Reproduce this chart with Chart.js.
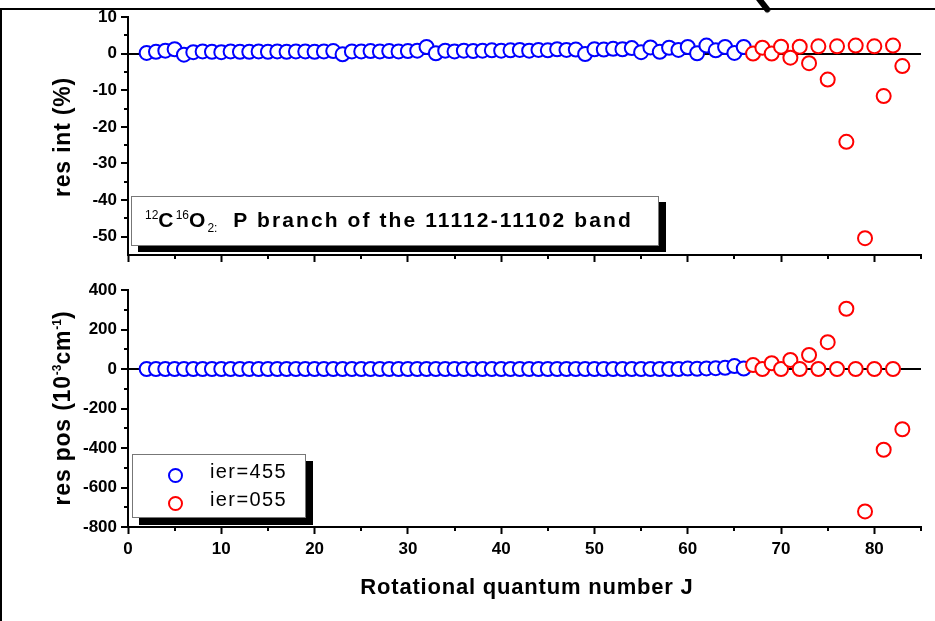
<!DOCTYPE html>
<html>
<head>
<meta charset="utf-8">
<script src="https://cdn.jsdelivr.net/npm/chart.js@4.4.1/dist/chart.umd.min.js"></script>
<style>
  body { margin: 0; background: #fff; }
  #page { position: relative; width: 935px; height: 621px; overflow: hidden; font-family: Arial, "Liberation Sans", sans-serif; color: #000; }
  #page canvas { position: absolute; left: 0; top: 0; }
  .frameTop { position: absolute; left: 0; top: 8px; width: 935px; height: 2px; background: #000; }
  .frameLeft { position: absolute; left: 0; top: 8px; width: 2px; height: 613px; background: #000; }
  .pen { position: absolute; left: 760px; top: -6px; width: 6px; height: 20px; background: #000; transform: rotate(-38deg); border-radius: 0 0 3px 3px; }
  .ytitle { position: absolute; font-weight: bold; font-size: 23px; letter-spacing: 0.8px; white-space: nowrap; transform: translate(-50%, -50%) rotate(-90deg); }
  .ytitle sup { font-size: 12px; letter-spacing: 0; }
  .xtitle { position: absolute; left: 527px; top: 574px; transform: translateX(-50%); font-weight: bold; font-size: 22px; letter-spacing: 0.8px; white-space: nowrap; }
  .note { position: absolute; left: 131px; top: 196px; width: 526px; height: 48px; border: 1px solid #777; background: #fff; box-shadow: 7px 6px 0 #000; }
  .note span.txt { position: absolute; left: 13px; top: 11px; font-weight: bold; font-size: 21px; letter-spacing: 2.1px; white-space: nowrap; }
  .note sup, .note sub { font-weight: normal; font-size: 12px; letter-spacing: 0; }
  .legend { position: absolute; left: 132px; top: 454px; width: 172px; height: 62px; border: 1px solid #777; background: #fff; box-shadow: 7px 7px 0 #000; }
  .legend .row { position: absolute; left: 0; height: 28px; width: 172px; }
  .legend .dot { position: absolute; left: 35px; top: 7px; width: 11px; height: 11px; border-radius: 50%; border: 2px solid; background: #fff; }
  .legend .lab { position: absolute; left: 77px; top: -1px; font-size: 20px; letter-spacing: 1.4px; }
</style>
</head>
<body>
<div id="page">
  <canvas id="topPanel" width="935" height="621"></canvas>
  <canvas id="bottomPanel" width="935" height="621"></canvas>
  <div class="frameTop"></div>
  <div class="frameLeft"></div>
  <div class="pen"></div>
  <div class="ytitle" style="left:62px; top:137px;">res int (%)</div>
  <div class="ytitle" style="left:62px; top:408px;">res pos (10<sup>-3</sup>cm<sup>-1</sup>)</div>
  <div class="xtitle">Rotational quantum number J</div>
  <div class="note"><span class="txt"><sup>12</sup>C<sup>16</sup>O<sub>2</sub><sub>:</sub>&nbsp; P branch of the 11112-11102 band</span></div>
  <div class="legend" id="legend"></div>
</div>
<script>
// rotational quantum numbers
const jBlue = [2, 3, 4, 5, 6, 7, 8, 9, 10, 11, 12, 13, 14, 15, 16, 17, 18, 19, 20, 21,
  22, 23, 24, 25, 26, 27, 28, 29, 30, 31, 32, 33, 34, 35, 36, 37, 38, 39, 40, 41,
  42, 43, 44, 45, 46, 47, 48, 49, 50, 51, 52, 53, 54, 55, 56, 57, 58, 59, 60, 61,
  62, 63, 64, 65, 66];
const jRed = [67, 68, 69, 70, 71, 72, 73, 74, 75, 76, 77, 78, 79, 80, 81, 82, 83];

// intensity residuals (%)
const intBlue = [0.2, 0.5, 0.8, 1.2, -0.3, 0.4, 0.6, 0.5, 0.4, 0.6,
  0.5, 0.5, 0.6, 0.5, 0.6, 0.5, 0.6, 0.6, 0.5, 0.6,
  0.7, -0.2, 0.6, 0.6, 0.7, 0.6, 0.7, 0.6, 0.7, 0.8,
  1.8, 0.1, 0.8, 0.6, 0.8, 0.7, 0.8, 0.9, 0.8, 0.9,
  1.0, 0.8, 1.0, 0.9, 1.2, 1.0, 1.1, -0.1, 1.2, 1.1,
  1.3, 1.2, 1.5, 0.4, 1.7, 0.5, 1.6, 1.0, 1.8, 0.1,
  2.2, 0.9, 1.8, 0.2, 1.8];
const intRed = [0.0, 1.6, 0.0, 1.9, -1.1, 1.9, -2.6, 2.0, -7.1, 2.0, -24.1, 2.2, -50.4, 2.0, -11.6, 2.2, -3.4];

// position residuals (10^-3 cm^-1)
const posBlue = [0, 0, 0, 0, 0, 0, 0, 0, 0, 0, 0, 0, 0, 0, 0, 0, 0, 0, 0, 0,
  0, 0, 0, 0, 0, 0, 0, 0, 0, 0, 0, 0, 0, 0, 0, 0, 0, 0, 0, 0,
  0, 0, 0, 0, 0, 0, 0, 0, 0, 0, 0, 0, 0, 0, 0, 0, 0, 0, 2, 1,
  3, 4, 6, 15, 2];
const posRed = [20, 0, 29, 0, 46, 0, 71, 0, 136, 0, 305, 0, -721, 0, -409, 0, -305];

const seriesNames = ['ier=455', 'ier=055'];
const seriesColors = ['#0000ff', '#ff0000'];

const tickFont = { family: 'Arial, "Liberation Sans", sans-serif', size: 17, weight: 'bold' };

// short unlabeled ticks between the major ones
const minorTicks = {
  id: 'minorTicks',
  afterDraw(chart, args, opts) {
    const ctx = chart.ctx;
    const area = chart.chartArea;
    const xs = chart.scales.x, ys = chart.scales.y;
    ctx.save();
    ctx.strokeStyle = '#000';
    ctx.lineWidth = 2;
    for (let v = xs.min + opts.x; v <= xs.max; v += opts.x) {
      if (v % (opts.x * 2) === 0) continue;
      const px = Math.round(xs.getPixelForValue(v));
      ctx.beginPath(); ctx.moveTo(px, area.bottom); ctx.lineTo(px, area.bottom + 4); ctx.stroke();
    }
    for (let v = ys.max - opts.y; v > ys.min; v -= opts.y) {
      if (v % (opts.y * 2) === 0) continue;
      const py = Math.round(ys.getPixelForValue(v));
      ctx.beginPath(); ctx.moveTo(area.left, py); ctx.lineTo(area.left - 4, py); ctx.stroke();
    }
    ctx.restore();
  }
};

function toPoints(xs, ys) {
  return xs.map((x, i) => ({ x: x, y: ys[i] }));
}

function makePanel(id, blueVals, redVals, yMin, yMax, yStep, padTop, padBottom, showXLabels) {
  const ds = (name, color, xs, ys, order) => ({
    label: name,
    data: toPoints(xs, ys),
    showLine: false,
    pointStyle: 'circle',
    pointRadius: 7,
    borderWidth: 2,
    borderColor: color,
    backgroundColor: '#fff',
    order: order
  });
  return new Chart(document.getElementById(id), {
    type: 'scatter',
    data: {
      datasets: [
        ds(seriesNames[0], seriesColors[0], jBlue, blueVals, 1),
        ds(seriesNames[1], seriesColors[1], jRed, redVals, 0)
      ]
    },
    options: {
      responsive: false,
      animation: false,
      devicePixelRatio: 1,
      events: [],
      layout: { padding: { top: padTop, right: 14, bottom: padBottom, left: 0 } },
      plugins: {
        legend: { display: false },
        tooltip: { enabled: false },
        minorTicks: { x: 5, y: yStep / 2 }
      },
      scales: {
        x: {
          type: 'linear',
          min: 0,
          max: 85,
          afterFit: s => { s.height = showXLabels ? 30 : 8; },
          border: { display: true, color: '#000', width: 2 },
          grid: {
            drawOnChartArea: false,
            drawTicks: true,
            tickLength: 7,
            tickWidth: 2,
            tickColor: '#000'
          },
          ticks: {
            display: showXLabels,
            stepSize: 10,
            includeBounds: false,
            padding: 5,
            color: '#000',
            font: tickFont,
            maxRotation: 0,
            autoSkip: false
          }
        },
        y: {
          min: yMin,
          max: yMax,
          afterFit: s => { s.width = 128; },
          border: { display: true, color: '#000', width: 2 },
          grid: {
            drawTicks: true,
            tickLength: 7,
            lineWidth: 2,
            tickWidth: 2,
            color: c => (c.tick && c.tick.value === 0 ? '#000' : 'rgba(0,0,0,0)'),
            tickColor: '#000'
          },
          ticks: {
            stepSize: yStep,
            includeBounds: false,
            padding: 4,
            color: '#000',
            font: tickFont,
            autoSkip: false
          }
        }
      }
    },
    plugins: [minorTicks]
  });
}

const topChart = makePanel('topPanel', intBlue, intRed, -55, 10, 10, 17, 621 - 255 - 8, false);
const bottomChart = makePanel('bottomPanel', posBlue, posRed, -800, 400, 200, 290, 621 - 527 - 30, true);

// legend box built from the dataset styles
const legendEl = document.getElementById('legend');
bottomChart.data.datasets
  .slice()
  .sort((a, b) => seriesNames.indexOf(a.label) - seriesNames.indexOf(b.label))
  .forEach((d, i) => {
    const row = document.createElement('div');
    row.className = 'row';
    row.style.top = (6 + i * 28) + 'px';
    const dot = document.createElement('span');
    dot.className = 'dot';
    dot.style.borderColor = d.borderColor;
    const lab = document.createElement('span');
    lab.className = 'lab';
    lab.textContent = d.label;
    row.appendChild(dot);
    row.appendChild(lab);
    legendEl.appendChild(row);
  });
</script>
</body>
</html>
